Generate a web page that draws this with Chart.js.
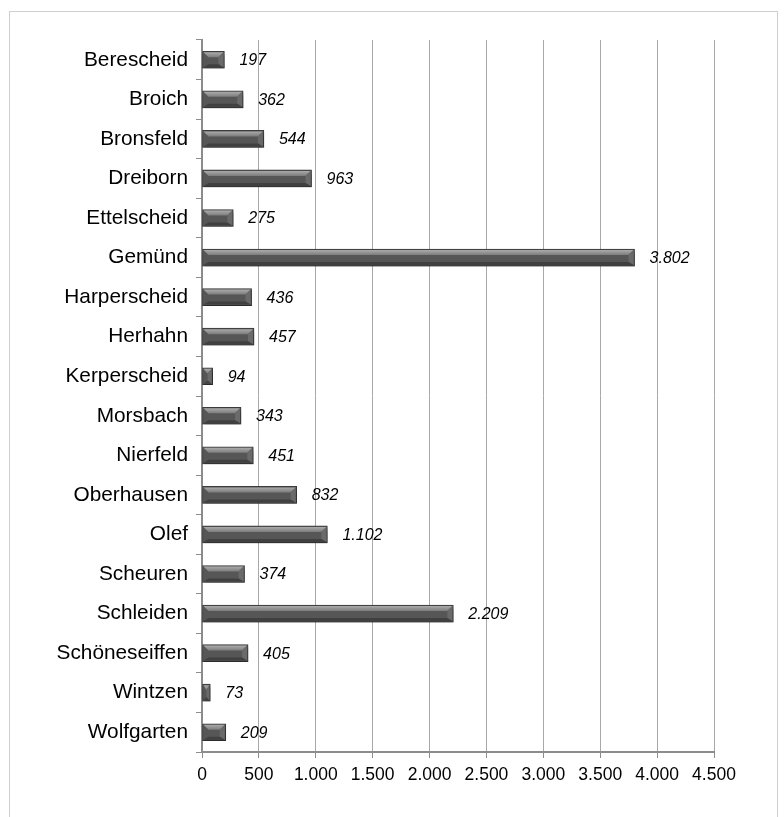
<!DOCTYPE html>
<html>
<head>
<meta charset="utf-8">
<script src="https://cdn.jsdelivr.net/npm/chart.js@4.4.0/dist/chart.umd.min.js"></script>
<style>
  html, body { margin: 0; padding: 0; background: #fff; }
</style>
</head>
<body>
<canvas id="myChart" width="784" height="817"></canvas>
<script>
const labelsList = [
  "Berescheid", "Broich", "Bronsfeld", "Dreiborn", "Ettelscheid", "Gemünd",
  "Harperscheid", "Herhahn", "Kerperscheid", "Morsbach", "Nierfeld",
  "Oberhausen", "Olef", "Scheuren", "Schleiden", "Schöneseiffen",
  "Wintzen", "Wolfgarten",
];

const valuesList = [
  197, 362, 544, 963, 275, 3802,
  436, 457, 94, 343, 451,
  832, 1102, 374, 2209, 405,
  73, 209,
];

const xMax = 4500;
const xStep = 500;

// German thousands separator: 1.000
function fmt(v) {
  return String(Math.round(v)).replace(/\B(?=(\d{3})+(?!\d))/g, ".");
}

// frame around the whole picture
const framePlugin = {
  id: "frame",
  beforeDraw(chart) {
    const ctx = chart.ctx;
    ctx.save();
    ctx.strokeStyle = "#cfcfcf";
    ctx.lineWidth = 1;
    ctx.strokeRect(9.5, 11.5, 768, 830);
    ctx.restore();
  },
};

// soft shadow under bars + bevel highlight + value labels
const bevelPlugin = {
  id: "bevel",
  beforeDatasetDraw(chart) {
    const ctx = chart.ctx;
    ctx.save();
    ctx.shadowColor = "rgba(0,0,0,0.35)";
    ctx.shadowOffsetX = 1;
    ctx.shadowOffsetY = 3;
    ctx.shadowBlur = 4;
  },
  afterDatasetDraw(chart) {
    const ctx = chart.ctx;
    ctx.restore();
    const meta = chart.getDatasetMeta(0);
    meta.data.forEach(function (bar, i) {
      const left = bar.base;
      const right = bar.x;
      const top = bar.y - bar.height / 2;
      const bottom = bar.y + bar.height / 2;
      const w = right - left;
      const c = Math.min(5, w / 2 - 1);

      ctx.save();
      // top bevel
      const g = ctx.createLinearGradient(0, top, 0, top + 6);
      g.addColorStop(0, "#b4b4b4");
      g.addColorStop(1, "#7c7c7c");
      ctx.fillStyle = g;
      ctx.beginPath();
      ctx.moveTo(left + 1, top + 1);
      ctx.lineTo(right - 1, top + 1);
      ctx.lineTo(right - 1 - c, top + 6);
      ctx.lineTo(left + 1 + c, top + 6);
      ctx.closePath();
      ctx.fill();
      // right face
      ctx.fillStyle = "#6a6a6a";
      ctx.beginPath();
      ctx.moveTo(right - 1, top + 1);
      ctx.lineTo(right - 1, bottom - 1);
      ctx.lineTo(right - 1 - c, bottom - 4);
      ctx.lineTo(right - 1 - c, top + 6);
      ctx.closePath();
      ctx.fill();
      // bottom shade
      ctx.fillStyle = "#404040";
      ctx.beginPath();
      ctx.moveTo(left + 1, bottom - 1);
      ctx.lineTo(right - 1, bottom - 1);
      ctx.lineTo(right - 1 - c, bottom - 4);
      ctx.lineTo(left + 1 + c, bottom - 4);
      ctx.closePath();
      ctx.fill();

      // value label
      ctx.fillStyle = "#000";
      ctx.font = "italic 16px 'Liberation Sans', Arial, sans-serif";
      ctx.textAlign = "left";
      ctx.textBaseline = "middle";
      ctx.fillText(fmt(valuesList[i]), right + 15, bar.y + 1);
      ctx.restore();
    });
  },
};

Chart.defaults.font.family = "'Liberation Sans', Arial, sans-serif";
Chart.defaults.color = "#000";

const myChart = document.getElementById("myChart").getContext("2d");
const myChar = new Chart(myChart, {
  type: "bar",
  data: {
    labels: labelsList,
    datasets: [
      {
        data: valuesList,
        backgroundColor: "#565656",
        borderColor: "#3c3c3c",
        borderWidth: 1,
        borderSkipped: false,
        barThickness: 17,
      },
    ],
  },
  options: {
    indexAxis: "y",
    responsive: false,
    animation: false,
    layout: {
      padding: { top: 40, right: 70, left: 0, bottom: 0 },
    },
    scales: {
      x: {
        min: 0,
        max: xMax,
        grid: {
          color: "#a8a8a8",
          lineWidth: 1,
          tickLength: 6,
          tickColor: "#8c8c8c",
        },
        border: { color: "#8c8c8c", width: 2 },
        ticks: {
          stepSize: xStep,
          padding: 7,
          font: { size: 17.5 },
          color: "#000",
          maxRotation: 0,
          callback: function (value) {
            return fmt(value);
          },
        },
        afterFit: function (scale) {
          scale.height = 65;
        },
      },
      y: {
        grid: {
          drawOnChartArea: false,
          tickLength: 6,
          tickColor: "#8c8c8c",
          offset: true,
        },
        border: { color: "#8c8c8c", width: 2 },
        ticks: {
          padding: 8,
          font: { size: 20.8 },
          color: "#000",
          autoSkip: false,
        },
        afterFit: function (scale) {
          scale.width = 202;
        },
      },
    },
    plugins: {
      legend: { display: false },
      tooltip: { enabled: false },
    },
  },
  plugins: [framePlugin, bevelPlugin],
});
</script>
</body>
</html>
